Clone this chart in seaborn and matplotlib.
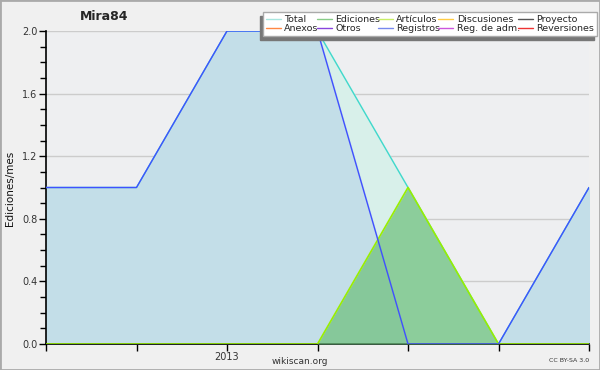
import pandas as pd
import matplotlib
matplotlib.use("Agg")
import matplotlib.pyplot as plt
from matplotlib.ticker import MultipleLocator
from matplotlib.lines import Line2D
from matplotlib.patches import Rectangle
import seaborn as sns

# monthly edit counts for the user
months = ["2012-11", "2012-12", "2013-01", "2013-02", "2013-03", "2013-04", "2013-05"]
total = [1, 1, 2, 2, 1, 0, 1]
registros = [1, 1, 2, 2, 0, 0, 1]
ediciones = [0, 0, 0, 0, 1, 0, 0]
articulos = [0, 0, 0, 0, 1, 0, 0]

legend_labels = ["Total", "Ediciones", "Artículos", "Discusiones", "Proyecto",
                 "Anexos", "Otros", "Registros", "Reg. de adm.", "Reversiones"]
legend_colors = ["#a8e6df", "#88cc88", "#c8ee66", "#ffcc44", "#555555",
                 "#ff8844", "#8844dd", "#7788ee", "#cc55dd", "#ee3333"]

df = pd.DataFrame({
    "mes": months,
    "Total": total,
    "Registros": registros,
    "Ediciones": ediciones,
    "Artículos": articulos,
})
df["pos"] = range(len(df))

sns.set_style("white")
plt.rcParams["font.family"] = ["DejaVu Sans"]

fig = plt.figure(figsize=(6, 3.7), dpi=100, facecolor="#f0f0f0")
ax = fig.add_axes([46 / 600, 1 - 344 / 370, 543 / 600, 313 / 370])
ax.set_facecolor("#eeeff1")

# fills
ax.fill_between(df["pos"], df["Total"], color="#d8f0ea", zorder=1)
ax.fill_between(df["pos"], df["Registros"], color="#c3dee8", zorder=2)
ax.fill_between(df["pos"], df["Ediciones"], color="#6cbf7a", alpha=0.7, zorder=3, lw=0)

# lines
sns.lineplot(data=df, x="pos", y="Total", color="#40d8cc", lw=1, ax=ax, zorder=4)
sns.lineplot(data=df, x="pos", y="Artículos", color="#99ee00", lw=1.2, ax=ax, zorder=5)
sns.lineplot(data=df, x="pos", y="Registros", color="#4050ff", lw=1, ax=ax, zorder=6)

ax.set_xlim(0, len(df) - 1)
ax.set_ylim(0, 2.0)
ax.yaxis.set_major_locator(MultipleLocator(0.4))
ax.yaxis.set_minor_locator(MultipleLocator(0.1))
ax.yaxis.set_major_formatter(plt.FuncFormatter(lambda v, p: f"{v:.1f}"))
ax.grid(axis="y", which="major", color="#cccccc", lw=1)
ax.set_axisbelow(True)

ax.set_xticks(df["pos"])
ax.set_xticklabels(["2013" if m == "2013-01" else "" for m in months])

for s in ["top", "right"]:
    ax.spines[s].set_visible(False)
for s in ["left", "bottom"]:
    ax.spines[s].set_color("black")
    ax.spines[s].set_linewidth(1.2)
ax.tick_params(axis="both", which="major", length=5, width=1, color="black",
               labelsize=7, labelcolor="#333333", direction="out", pad=1,
               left=True, bottom=True)
ax.tick_params(axis="y", which="minor", length=4, width=1, color="black",
               direction="out", left=True)

ax.set_xlabel("")
ax.set_ylabel("")
fig.text(10 / 600, 1 - 188 / 370, "Ediciones/mes", fontsize=7.5, rotation=90,
         ha="center", va="center", color="#111111")

fig.text(104 / 600, 1 - 17 / 370, "Mira84", fontsize=9, fontweight="bold",
         ha="center", va="center")
fig.text(300 / 600, 1 - 361 / 370, "wikiscan.org", fontsize=6.5, ha="center",
         va="center", color="#333333")
fig.text(589 / 600, 1 - 361 / 370, "CC BY-SA 3.0", fontsize=4.5, ha="right",
         va="center", color="#333333")

# legend (column-wise fill so it reads row by row)
order = [0, 5, 1, 6, 2, 7, 3, 8, 4, 9]
handles = [Line2D([], [], color=legend_colors[i], lw=1) for i in order]
labels = [legend_labels[i] for i in order]
leg = fig.legend(handles, labels, ncol=5, loc="upper left", mode="expand",
                 bbox_to_anchor=(263 / 600, 1 - 12 / 370, 334 / 600, 0),
                 fontsize=6.8, frameon=True, fancybox=False, framealpha=1,
                 edgecolor="#aaaaaa", handlelength=1.6, handletextpad=0.35,
                 columnspacing=0.3, labelspacing=0.0, borderpad=0.3,
                 borderaxespad=0)
leg.set_zorder(10)

# drop shadow behind the legend, offset left and down
fig.canvas.draw()
fb = leg.get_frame().get_window_extent()
fig.patches.append(Rectangle((fb.x0 - 3, fb.y0 - 4), fb.width, fb.height,
                             transform=None, color="#777777", zorder=9))

fig.patches.append(Rectangle((0, 0), 1, 1, transform=fig.transFigure, fill=False,
                             edgecolor="#aaaaaa", lw=2, zorder=20))

fig.savefig("out.png", dpi=100, facecolor=fig.get_facecolor())
